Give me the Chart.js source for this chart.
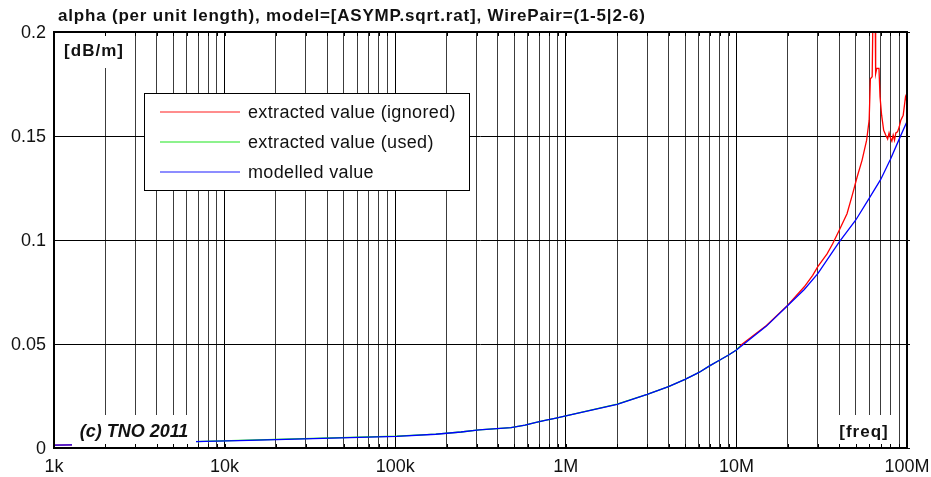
<!DOCTYPE html>
<html>
<head>
<meta charset="utf-8">
<script src="https://cdn.jsdelivr.net/npm/chart.js@4.4.1/dist/chart.umd.min.js"></script>
<style>
  html, body { margin: 0; padding: 0; background: #fff; }
  canvas { display: block; }
</style>
</head>
<body>
<canvas id="alpha" width="931" height="477"></canvas>
<script>
const chartTitle = 'alpha (per unit length), model=[ASYMP.sqrt.rat], WirePair=(1-5|2-6)';
const unitLabel = '[dB/m]';
const freqLabel = '[freq]';
const copyright = '(c) TNO 2011';

// frequency axis, 1k .. 100M
const xDecades = [1e3, 1e4, 1e5, 1e6, 1e7, 1e8];
const xTickLabels = ['1k', '10k', '100k', '1M', '10M', '100M'];
const yTicks = [0, 0.05, 0.1, 0.15, 0.2];
const yTickLabels = ['0', '0.05', '0.1', '0.15', '0.2'];

const seriesNames = ['extracted value (ignored)', 'extracted value (used)', 'modelled value'];
const seriesColors = ['rgb(255,0,0)', 'rgb(0,225,0)', 'rgb(0,0,255)'];

// modelled attenuation
const modelFreq = [1000, 1300, 2000, 4000, 6700, 13900, 37500, 102000, 173000, 243000, 310000,
  477000, 577000, 660000, 755000, 877000, 1e6, 2e6, 3e6, 4e6, 5e6, 6e6, 7e6, 8e6, 9e6, 1e7,
  1.5e7, 2e7, 2.5e7, 3e7, 4e7, 5e7, 6e7, 7e7, 8e7, 9e7, 1e8];
const modelAlpha = [0.0014, 0.0015, 0.0018, 0.0024, 0.0031, 0.0037, 0.0046, 0.0056, 0.0066, 0.0077, 0.0087,
  0.0098, 0.0110, 0.0122, 0.0133, 0.0144, 0.0154, 0.0210, 0.0258, 0.0295, 0.0330, 0.0362, 0.0396, 0.0423, 0.0447, 0.0471,
  0.0586, 0.0685, 0.0762, 0.0838, 0.0990, 0.1095, 0.1200, 0.1290, 0.1388, 0.1485, 0.1570];

// extracted values used for the fit
const usedFreq = [1300, 2000, 4000, 6700, 13900, 37500, 102000, 173000, 243000, 310000,
  477000, 577000, 660000, 755000, 877000, 1e6, 2e6, 3e6, 4e6, 5e6, 6e6, 7e6, 8e6, 9e6, 1e7, 1.05e7];
const usedAlpha = [0.0015, 0.0018, 0.0024, 0.0031, 0.0038, 0.0047, 0.0057, 0.0067, 0.0077, 0.0087,
  0.0098, 0.0110, 0.0122, 0.0133, 0.0144, 0.0154, 0.0211, 0.0258, 0.0295, 0.0330, 0.0362, 0.0396, 0.0423, 0.0447, 0.0471, 0.0490];

// extracted values left out of the fit (null = gap)
const ignoredFreq = [1000, 1300, 5e6, 1.05e7, 1.5e7, 2e7, 2.5e7, 2.8e7, 3e7, 3.4e7, 3.66e7, 4e7,
  4.45e7, 4.8e7, 5.1e7, 5.45e7, 5.8e7, 6.0e7, 6.1e7, 6.25e7, 6.33e7, 6.5e7, 6.55e7, 6.65e7,
  6.85e7, 6.95e7, 7.1e7, 7.3e7, 7.5e7, 7.7e7, 7.85e7, 8e7, 8.15e7, 8.3e7, 8.45e7, 8.6e7,
  8.8e7, 9e7, 9.2e7, 9.5e7, 9.8e7, 1e8];
const ignoredAlpha = [0.0014, 0.0015, null, 0.0492, 0.0589, 0.0687, 0.0775, 0.0830, 0.0872, 0.0933, 0.0981, 0.1046,
  0.1126, 0.1222, 0.1303, 0.1383, 0.1480, 0.1576, 0.1775, 0.1785, 0.215, 0.215, 0.1800, 0.1825,
  0.1825, 0.1688, 0.1600, 0.1527, 0.1505, 0.1485, 0.1515, 0.1490, 0.1475, 0.1505, 0.1480, 0.1515,
  0.1520, 0.1543, 0.1576, 0.1600, 0.1688, 0.1664];

// grid at 1..9 x every decade
const xGrid = [];
xDecades.forEach((d, i) => {
  if (i === xDecades.length - 1) { xGrid.push(d); return; }
  for (let k = 1; k <= 9; k++) xGrid.push(k * d);
});

const toPoints = (fs, vs) => fs.map((f, i) => ({ x: f, y: vs[i] }));

const FONT = 'Arial, "Liberation Sans", sans-serif';

function boxLabel(ctx, text, x0, y0, x1, y1, font, spacing) {
  ctx.fillStyle = '#fff';
  ctx.fillRect(x0, y0, x1 - x0, y1 - y0);
  ctx.font = font;
  ctx.letterSpacing = spacing || '0px';
  ctx.fillStyle = '#111';
  ctx.textAlign = 'center';
  ctx.textBaseline = 'middle';
  ctx.fillText(text, (x0 + x1) / 2, (y0 + y1) / 2 + 1);
  ctx.letterSpacing = '0px';
}

const decorations = {
  id: 'decorations',
  afterDatasetsDraw(chart) {
    const ctx = chart.ctx;
    const area = chart.chartArea;
    const xs = chart.scales.x, ys = chart.scales.y;
    ctx.save();

    // labels sitting inside the plot on white boxes
    boxLabel(ctx, unitLabel, 57, 33, 131, 68, 'bold 17px ' + FONT, '1px');
    boxLabel(ctx, copyright, 72, 415, 196, 447, 'italic bold 18px ' + FONT);
    boxLabel(ctx, freqLabel, 833, 415, 895, 447, 'bold 17px ' + FONT, '1px');

    // legend
    const lx0 = 144, ly0 = 93, lx1 = 470, ly1 = 191;
    ctx.fillStyle = '#fff';
    ctx.fillRect(lx0, ly0, lx1 - lx0, ly1 - ly0);
    ctx.strokeStyle = '#000';
    ctx.lineWidth = 1;
    ctx.strokeRect(lx0 + 0.5, ly0 + 0.5, lx1 - lx0 - 1, ly1 - ly0 - 1);
    ctx.font = '18px ' + FONT;
    ctx.letterSpacing = '0.35px';
    ctx.textAlign = 'left';
    ctx.textBaseline = 'middle';
    chart.data.datasets.forEach((ds, i) => {
      const y = 112 + i * 30;
      ctx.strokeStyle = ds.borderColor;
      ctx.globalAlpha = 0.6;
      ctx.lineWidth = 1.5;
      ctx.beginPath();
      ctx.moveTo(160, y);
      ctx.lineTo(240, y);
      ctx.stroke();
      ctx.globalAlpha = 1;
      ctx.fillStyle = '#111';
      ctx.fillText(ds.label, 248, y + 1);
    });
    ctx.letterSpacing = '0px';

    // small tick marks along the frame
    ctx.strokeStyle = '#000';
    ctx.lineWidth = 1;
    ctx.beginPath();
    xGrid.forEach(v => {
      const px = Math.round(xs.getPixelForValue(v)) + 0.5;
      ctx.moveTo(px, area.bottom);
      ctx.lineTo(px, area.bottom - 4);
      ctx.moveTo(px, area.top);
      ctx.lineTo(px, area.top + 4);
    });
    yTicks.forEach(v => {
      const py = Math.round(ys.getPixelForValue(v)) + 0.5;
      ctx.moveTo(area.right, py);
      ctx.lineTo(area.right + 3, py);
    });
    ctx.stroke();

    // frame
    ctx.lineWidth = 2;
    ctx.strokeRect(area.left, area.top, area.right - area.left, area.bottom - area.top);

    // title
    ctx.fillStyle = '#111';
    ctx.font = 'bold 17px ' + FONT;
    ctx.letterSpacing = '0.8px';
    ctx.textAlign = 'left';
    ctx.textBaseline = 'alphabetic';
    ctx.fillText(chartTitle, 58, 21);
    ctx.letterSpacing = '0px';

    // axis labels
    ctx.font = '18px ' + FONT;
    ctx.textAlign = 'right';
    ctx.textBaseline = 'middle';
    yTicks.forEach((v, i) => {
      ctx.fillText(yTickLabels[i], 46, ys.getPixelForValue(v) + 1);
    });
    ctx.textAlign = 'center';
    xDecades.forEach((v, i) => {
      ctx.fillText(xTickLabels[i], xs.getPixelForValue(v), 467);
    });
    ctx.restore();
  }
};

new Chart(document.getElementById('alpha'), {
  type: 'line',
  data: {
    datasets: [
      { label: seriesNames[0], data: toPoints(ignoredFreq, ignoredAlpha), borderColor: seriesColors[0], order: 2 },
      { label: seriesNames[1], data: toPoints(usedFreq, usedAlpha), borderColor: seriesColors[1], order: 1 },
      { label: seriesNames[2], data: toPoints(modelFreq, modelAlpha), borderColor: seriesColors[2], order: 0 }
    ]
  },
  options: {
    responsive: false,
    animation: false,
    devicePixelRatio: 1,
    layout: { padding: { left: 54, top: 32, right: 24, bottom: 29 } },
    elements: {
      line: { borderWidth: 1.3, tension: 0, fill: false },
      point: { radius: 0, hoverRadius: 0 }
    },
    spanGaps: false,
    scales: {
      x: {
        type: 'logarithmic',
        min: 1e3,
        max: 1e8,
        afterBuildTicks: scale => { scale.ticks = xGrid.map(v => ({ value: v })); },
        ticks: { display: false },
        border: { display: false },
        grid: {
          drawTicks: false,
          lineWidth: 1,
          color: c => xDecades.includes(c.tick && c.tick.value) ? '#000' : '#3c3c3c'
        }
      },
      y: {
        type: 'linear',
        min: 0,
        max: 0.2,
        afterBuildTicks: scale => { scale.ticks = yTicks.map(v => ({ value: v })); },
        ticks: { display: false },
        border: { display: false },
        grid: { drawTicks: false, lineWidth: 1, color: '#000' }
      }
    },
    plugins: {
      legend: { display: false },
      title: { display: false },
      tooltip: { enabled: false }
    }
  },
  plugins: [decorations]
});
</script>
</body>
</html>
